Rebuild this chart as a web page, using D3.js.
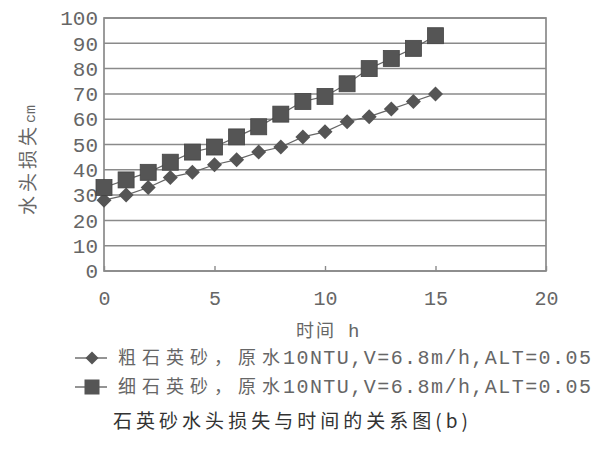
<!DOCTYPE html>
<html><head><meta charset="utf-8">
<script src="https://cdn.jsdelivr.net/npm/d3@7/dist/d3.min.js"></script>
<style>html,body{margin:0;padding:0;background:#fff;}</style>
</head><body>
<script>
const hours = [0,1,2,3,4,5,6,7,8,9,10,11,12,13,14,15];
const coarse = [28,30,33,37,39,42,44,47,49,53,55,59,61,64,67,70];
const fine   = [33,36,39,43,47,49,53,57,62,67,69,74,80,84,88,93];
const xTicks = [0,5,10,15,20];
const yTicks = [0,10,20,30,40,50,60,70,80,90,100];
const legendCJK = ["粗石英砂，原水","细石英砂，原水"];
const legendASCII = ["10NTU,V=6.8m/h,ALT=0.05","10NTU,V=6.8m/h,ALT=0.05"];
const xTitleCJK = "时间";
const xTitleUnit = "h";
const yTitleCJK = "水头损失";
const yTitleUnit = "cm";
const caption = "石英砂水头损失与时间的关系图(b)";

const W=600,H=450;
const svg=d3.select("body").append("svg").attr("width",W).attr("height",H);
const L=104,R=546,T=18,B=271;
const x=d3.scaleLinear().domain([0,20]).range([L,R]);
const y=d3.scaleLinear().domain([0,100]).range([B,T]);
const grid="#8a8a8a", txt="#666", mark="#555";
const mono="'Liberation Mono','DejaVu Sans Mono',monospace";
const cjk="'Noto Sans CJK SC',sans-serif";

svg.append("g").selectAll("line").data(yTicks).join("line")
  .attr("x1",L).attr("x2",R).attr("y1",d=>y(d)).attr("y2",d=>y(d))
  .attr("stroke",grid).attr("stroke-width",1.5);
svg.append("rect").attr("x",L).attr("y",T).attr("width",R-L).attr("height",B-T)
  .attr("fill","none").attr("stroke",grid).attr("stroke-width",1.7);

const xa=svg.append("g").attr("transform",`translate(0,${B})`)
  .call(d3.axisBottom(x).tickValues(xTicks).tickSizeInner(-5).tickSizeOuter(0).tickPadding(20));
xa.select(".domain").remove();
xa.selectAll("line").attr("stroke",grid).attr("stroke-width",1.4);
xa.selectAll("text").attr("font-family",mono).attr("font-size",20).attr("fill",txt);

const ya=svg.append("g").attr("transform",`translate(${L},0)`)
  .call(d3.axisLeft(y).tickValues(yTicks).tickSize(0).tickPadding(6));
ya.select(".domain").remove();
ya.selectAll("text").attr("font-family",mono).attr("font-size",21).attr("fill",txt);

const line=d3.line().x((d,i)=>x(hours[i])).y(d=>y(d));
[coarse,fine].forEach(s=>{
  svg.append("path").datum(s).attr("d",line).attr("fill","none")
    .attr("stroke","#666").attr("stroke-width",1.2);
});
const dia="M0,-7.5L7.5,0L0,7.5L-7.5,0Z";
svg.append("g").selectAll("path").data(coarse).join("path")
  .attr("d",dia).attr("transform",(d,i)=>`translate(${x(hours[i])},${y(d)})`)
  .attr("fill",mark);
svg.append("g").selectAll("rect").data(fine).join("rect")
  .attr("x",(d,i)=>x(hours[i])-8).attr("y",d=>y(d)-8)
  .attr("width",16).attr("height",16).attr("fill",mark).attr("stroke","#444").attr("stroke-width",0.8);

const xt=svg.append("text").attr("x",296).attr("y",337).attr("fill",txt);
xt.append("tspan").attr("font-family",cjk).attr("font-size",18).attr("letter-spacing",2).text(xTitleCJK);
xt.append("tspan").attr("dx",12).attr("font-family",mono).attr("font-size",19).text(xTitleUnit);

const yt=svg.append("text").attr("transform","translate(35,160) rotate(-90)").attr("text-anchor","middle")
  .attr("fill",txt);
yt.append("tspan").attr("font-family",cjk).attr("font-size",19).attr("letter-spacing",4).text(yTitleCJK);
yt.append("tspan").attr("font-family",mono).attr("font-size",15).text(yTitleUnit);

const ly=[358,387];
ly.forEach((yy,i)=>{
  svg.append("line").attr("x1",75).attr("x2",107).attr("y1",yy).attr("y2",yy)
    .attr("stroke","#666").attr("stroke-width",1.4);
  if(i===0){
    svg.append("path").attr("d","M0,-6.5L6.5,0L0,6.5L-6.5,0Z").attr("transform",`translate(92,${yy})`).attr("fill",mark);
  } else {
    svg.append("rect").attr("x",84.5).attr("y",yy-7.5).attr("width",15).attr("height",15).attr("fill",mark);
  }
  const t=svg.append("text").attr("y",yy+6).attr("fill",txt);
  t.append("tspan").attr("x",118).attr("font-family",cjk).attr("font-size",18)
    .attr("textLength",162).attr("lengthAdjust","spacing").text(legendCJK[i]);
  t.append("tspan").attr("x",283).attr("font-family",mono).attr("font-size",20)
    .attr("textLength",308).attr("lengthAdjust","spacing").text(legendASCII[i]);
});

svg.append("text").attr("x",113).attr("y",428).attr("font-family","'Noto Sans CJK SC',serif")
  .attr("font-size",19).attr("fill","#333").attr("textLength",355).attr("lengthAdjust","spacing").text(caption);
</script>
</body></html>
